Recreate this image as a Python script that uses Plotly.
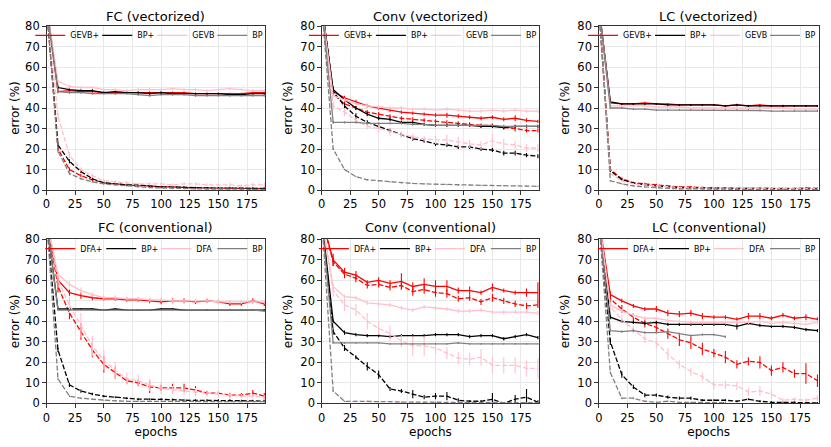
import plotly.graph_objects as go
from plotly.subplots import make_subplots

epochs = [0, 10, 20, 30, 40, 50, 60, 70, 80, 90, 100, 110, 120, 130, 140, 150, 160, 170, 180, 190]

panel_titles = ["FC (vectorized)", "Conv (vectorized)", "LC (vectorized)",
                "FC (conventional)", "Conv (conventional)", "LC (conventional)"]
vec_names = ["GEVB+", "BP+", "GEVB", "BP"]
conv_names = ["DFA+", "BP+", "DFA", "BP"]

# ---- FC (vectorized) ----
fcv_plus_test = [90, 48, 48.5, 48, 48, 47.5, 47.5, 47.5, 47.5, 47.5, 47.5, 47.5, 47.5, 47, 47, 47, 47, 47, 47.5, 47.5]
fcv_bpp_test = [90, 50, 49, 48.5, 48.5, 47.5, 48, 47.5, 47.5, 47, 47.5, 47, 47, 47, 47, 47, 46.5, 46.5, 47, 47]
fcv_base_test = [90, 53, 50.5, 50, 50, 49, 49, 48.5, 49, 49, 49, 49.5, 49, 49, 48.5, 49, 49.5, 49, 48.5, 48.5]
fcv_bp_test = [90, 48, 47.5, 47.5, 47, 47, 47, 47, 46.5, 46, 46.5, 46.5, 46.5, 46, 46, 46, 46, 46, 46, 46]
fcv_plus_train = [90, 20, 10, 7, 5, 3.5, 3, 2.5, 2, 2, 1.5, 1.5, 1.2, 1, 1, 1, 0.8, 0.8, 0.7, 0.7]
fcv_bpp_train = [90, 22, 14, 9, 5.5, 3.5, 3, 2.5, 2.5, 2, 1.5, 1.5, 1.2, 1.2, 1, 1, 1, 0.8, 0.8, 0.8]
fcv_base_train = [90, 36, 17, 10, 7, 4.5, 4, 3.5, 3, 3, 3, 2.5, 3, 3, 2.5, 2.5, 2.5, 2, 2.5, 2.5]
fcv_bp_train = [90, 19, 8, 5.5, 4, 3, 2.5, 2, 1.5, 1.2, 1, 0.8, 0.7, 0.6, 0.5, 0.5, 0.4, 0.4, 0.3, 0.3]
fcv_plus_test_err = [0, 0.8, 0.6, 0.6, 0.5, 0.5, 0.5, 0.6, 0.5, 0.5, 0.5, 0.5, 0.5, 0.5, 0.5, 0.5, 0.5, 0.5, 0.6, 0.5]
fcv_bpp_test_err = [0, 0.8, 0.6, 0.6, 0.6, 0.5, 0.5, 0.5, 0.5, 0.8, 0.5, 0.5, 0.5, 0.5, 0.5, 0.5, 0.5, 0.5, 0.5, 0.5]
fcv_base_test_err = [0, 1, 0.8, 0.8, 0.6, 0.6, 0.6, 0.6, 0.6, 0.6, 0.6, 0.6, 0.6, 0.6, 0.8, 0.6, 0.8, 0.6, 0.8, 0.6]
fcv_bp_test_err = [0, 0.5, 0.5, 0.5, 0.5, 0.5, 0.5, 0.5, 0.5, 0.5, 0.5, 0.5, 0.5, 0.5, 0.5, 0.5, 0.5, 0.5, 0.5, 0.5]
fcv_plus_train_err = [0, 1, 1, 0.8, 0.6, 0.5, 0.5, 0.5, 0.4, 0.4, 0.4, 0.4, 0.4, 0.4, 0.4, 0.4, 0.4, 0.4, 0.4, 0.4]
fcv_bpp_train_err = [0, 1, 1, 0.8, 0.6, 0.5, 0.5, 0.5, 0.4, 0.4, 0.4, 0.4, 0.4, 0.4, 0.4, 0.4, 0.4, 0.4, 0.4, 0.4]
fcv_base_train_err = [0, 1.5, 1.5, 1, 1, 0.8, 0.8, 0.8, 0.8, 0.8, 0.8, 0.8, 0.8, 0.8, 0.8, 0.8, 1, 0.8, 1, 1]
fcv_bp_train_err = [0, 0.8, 0.6, 0.5, 0.4, 0.3, 0.3, 0.3, 0.3, 0.3, 0.3, 0.3, 0.3, 0.3, 0.3, 0.3, 0.3, 0.3, 0.3, 0.3]

# ---- Conv (vectorized) ----
convv_plus_test = [90, 48, 45, 43, 41, 40, 39, 38, 37.5, 37, 36.5, 36.5, 36, 35.5, 35, 35.5, 34.5, 35, 34, 33.5]
convv_bpp_test = [90, 49, 44, 40, 37, 35, 34.5, 33, 33, 32, 31.5, 31.5, 31.5, 31.5, 31, 31, 30.5, 31, 31, 31]
convv_base_test = [90, 46, 44, 42, 41, 40.5, 40, 40, 39.5, 39.5, 39, 39.5, 39, 38.5, 38.5, 39, 38.5, 39, 38.5, 38.5]
convv_bp_test = [90, 33, 33, 33, 32.5, 32.5, 32.5, 32.5, 32, 32, 31.5, 31.5, 31.5, 31.5, 31.5, 31.5, 31, 31, 31, 31]
convv_plus_train = [90, 47, 42, 40, 38, 37, 36, 35, 34.5, 34, 33.5, 33, 32.5, 32, 31.5, 31.5, 30.5, 30, 29, 29]
convv_bpp_train = [90, 48, 41, 36, 33, 31, 29, 27, 25, 24, 22.5, 22, 21, 21, 20, 19.5, 18, 18, 17, 16.5]
convv_base_train = [90, 41, 38, 34, 31, 30, 28.5, 27, 26, 25, 24.5, 24.5, 23.5, 22.5, 22, 24, 22.5, 22, 20.5, 20.5]
convv_bp_train = [90, 20, 10, 6.5, 5, 4.5, 4, 3.5, 3.2, 3, 2.8, 2.6, 2.5, 2.4, 2.3, 2.2, 2.1, 2, 1.9, 1.8]
convv_plus_test_err = [0, 1.5, 1, 1, 0.8, 0.8, 1, 0.8, 0.8, 0.8, 1, 1.2, 1, 1, 1, 1, 1, 1.5, 1, 0.8]
convv_bpp_test_err = [0, 1.5, 1, 1, 1, 1, 1, 0.8, 0.8, 0.8, 0.8, 0.8, 0.8, 0.8, 0.8, 0.8, 0.8, 0.8, 0.8, 0.8]
convv_base_test_err = [0, 1, 1, 0.8, 0.8, 0.8, 1, 1, 0.8, 0.8, 0.8, 1, 0.8, 0.8, 0.8, 0.8, 1, 0.8, 0.8, 0.8]
convv_bp_test_err = [0, 0.8, 0.5, 0.5, 0.5, 0.5, 0.5, 0.5, 0.5, 0.5, 0.5, 0.5, 0.5, 0.5, 0.5, 0.5, 0.5, 0.5, 0.5, 0.5]
convv_plus_train_err = [0, 1, 1.5, 1, 1, 1, 1, 1, 1, 1, 1, 1, 1, 1, 1, 1, 1, 1.5, 1, 1]
convv_bpp_train_err = [0, 1, 1.5, 1.5, 1, 1, 1, 1, 1, 1, 1, 1, 1, 1, 1, 1, 1.2, 1.2, 1, 1]
convv_base_train_err = [0, 2, 2, 1.5, 1.5, 2, 2, 1.5, 1.5, 1.5, 2, 2.5, 2.5, 2, 2, 3.5, 2.5, 2, 2, 2]
convv_bp_train_err = [0, 0.5, 0.4, 0.3, 0.3, 0.3, 0.3, 0.3, 0.3, 0.3, 0.3, 0.3, 0.3, 0.3, 0.3, 0.3, 0.3, 0.3, 0.3, 0.3]

# ---- LC (vectorized) ----
lcv_plus_test = [90, 42.5, 42, 42, 42.5, 42, 42, 41.5, 41.5, 41.5, 41.5, 41, 41.5, 41, 41.5, 41, 41, 41, 41, 41]
lcv_bpp_test = [90, 43, 42, 42, 42, 42, 41.5, 41.5, 41.5, 41.5, 41.5, 41, 41.5, 41, 41, 41, 41, 41, 41, 41]
lcv_base_test = [90, 41, 41, 41, 41, 40.5, 40.5, 40.5, 40, 40, 40, 40, 40, 40, 40, 40, 40, 39.5, 39.5, 39.5]
lcv_bp_test = [90, 40, 40, 39.5, 39.5, 39, 39, 39, 39, 39, 39, 39, 39, 39, 38.8, 38.5, 38.5, 38.5, 38.5, 38.5]
lcv_plus_train = [90, 10, 5.5, 3.5, 3, 2.5, 2, 1.5, 1.5, 1.2, 1, 1, 0.9, 0.8, 0.8, 0.8, 0.8, 0.8, 1, 0.8]
lcv_bpp_train = [90, 9.5, 5, 3.5, 2.5, 2, 1.5, 1.2, 1, 1, 0.8, 0.8, 0.7, 0.6, 0.6, 0.5, 0.5, 0.5, 0.5, 0.5]
lcv_base_train = [90, 8, 4.5, 3, 2.5, 2, 1.5, 1.2, 1, 1, 0.9, 0.8, 0.8, 0.7, 0.7, 0.7, 0.7, 0.7, 0.7, 0.7]
lcv_bp_train = [90, 4.5, 3, 2, 1.5, 1, 0.8, 0.6, 0.5, 0.5, 0.4, 0.4, 0.4, 0.3, 0.3, 0.3, 0.3, 0.3, 0.3, 0.3]
lcv_plus_test_err = [0, 0.6, 0.5, 0.5, 0.6, 0.5, 0.5, 0.5, 0.5, 0.5, 0.5, 0.5, 0.5, 0.5, 0.5, 0.5, 0.6, 0.5, 0.5, 0.5]
lcv_bpp_test_err = [0, 0.6, 0.5, 0.5, 0.5, 0.5, 0.5, 0.5, 0.5, 0.5, 0.5, 0.5, 0.6, 0.5, 0.5, 0.5, 0.5, 0.5, 0.5, 0.5]
lcv_base_test_err = [0, 0.5, 0.5, 0.5, 0.5, 0.5, 0.5, 0.5, 0.5, 0.5, 0.5, 0.5, 0.5, 0.5, 0.5, 0.5, 0.5, 0.5, 0.5, 0.5]
lcv_bp_test_err = [0, 0.5, 0.5, 0.5, 0.5, 0.5, 0.5, 0.5, 0.5, 0.5, 0.5, 0.5, 0.5, 0.5, 0.5, 0.5, 0.5, 0.5, 0.5, 0.5]
lcv_plus_train_err = [0, 0.8, 0.6, 0.5, 0.5, 0.5, 0.4, 0.4, 0.4, 0.4, 0.4, 0.4, 0.4, 0.4, 0.4, 0.4, 0.4, 0.4, 0.6, 0.4]
lcv_bpp_train_err = [0, 0.8, 0.5, 0.4, 0.4, 0.4, 0.3, 0.3, 0.3, 0.3, 0.3, 0.3, 0.3, 0.3, 0.3, 0.3, 0.3, 0.3, 0.3, 0.3]
lcv_base_train_err = [0, 0.6, 0.4, 0.4, 0.3, 0.3, 0.3, 0.3, 0.3, 0.3, 0.3, 0.3, 0.3, 0.3, 0.3, 0.3, 0.3, 0.3, 0.3, 0.3]
lcv_bp_train_err = [0, 0.4, 0.3, 0.3, 0.3, 0.3, 0.3, 0.3, 0.3, 0.3, 0.3, 0.3, 0.3, 0.3, 0.3, 0.3, 0.3, 0.3, 0.3, 0.3]

# ---- FC (conventional) ----
fcc_plus_test = [90, 60, 54, 52.5, 51.5, 51, 51, 50.5, 50.5, 50, 49.5, 50, 50, 49.5, 50, 49.5, 48.5, 48.5, 50, 48.5]
fcc_bpp_test = [90, 46, 46, 46, 46, 45.5, 46, 45.5, 45.5, 45.5, 46, 46, 45.5, 45.5, 45.5, 45.5, 45.5, 45.5, 45.5, 45.5]
fcc_base_test = [90, 63, 58, 55, 53, 51.5, 51.5, 51, 51, 50.5, 50.5, 50, 50, 50, 50, 49.5, 49.5, 49.5, 49.5, 49.5]
fcc_bp_test = [90, 45.5, 45.5, 45.5, 45.5, 45.5, 45.5, 45.5, 45.5, 45.5, 45.5, 45.5, 45.5, 45.5, 45.5, 45.5, 45.5, 45.5, 45.5, 45]
fcc_plus_train = [90, 57, 44, 35, 26, 19, 15, 11, 10, 8, 7.5, 7.5, 7.5, 6.5, 5, 5, 4, 4, 5, 3.5]
fcc_bpp_train = [90, 26, 9, 6, 4.5, 3.5, 3, 2.5, 2, 2, 2, 1.8, 1.5, 1.5, 1.5, 1.5, 1.5, 1.2, 1.2, 1]
fcc_base_train = [90, 60, 48, 38, 28, 21, 16, 12, 11, 9, 7.5, 6.5, 6, 5.5, 5, 4.5, 4, 3.5, 3.5, 3]
fcc_bp_train = [90, 12, 3.5, 2.5, 2, 1.5, 1.2, 1, 1, 0.9, 0.9, 0.8, 0.8, 0.8, 0.8, 0.8, 0.8, 0.8, 0.8, 0.8]
fcc_plus_test_err = [0, 2, 1.5, 1.5, 1.2, 1, 1, 1, 1, 1.2, 1.2, 1.2, 1.2, 1, 1, 1, 1, 1, 1.2, 1]
fcc_bpp_test_err = [0, 0.5, 0.5, 0.5, 0.5, 0.5, 0.5, 0.5, 0.5, 0.5, 0.5, 0.5, 0.5, 0.5, 0.5, 0.5, 0.5, 0.5, 0.5, 0.5]
fcc_base_test_err = [0, 1.5, 1.5, 1.5, 1.2, 1.2, 1.2, 1, 1, 1, 1, 1, 1, 1, 1, 1, 1, 1, 1, 1]
fcc_bp_test_err = [0, 0.4, 0.4, 0.4, 0.4, 0.4, 0.4, 0.4, 0.4, 0.4, 0.4, 0.4, 0.4, 0.4, 0.4, 0.4, 0.4, 0.4, 0.4, 0.4]
fcc_plus_train_err = [0, 3, 3, 4, 3.5, 4, 3, 1.5, 1.5, 3, 1.5, 2, 2, 2, 1, 1, 1, 1, 1.5, 1.5]
fcc_bpp_train_err = [0, 1, 1, 0.8, 0.6, 0.5, 0.5, 0.5, 0.5, 0.5, 0.5, 0.5, 0.5, 0.5, 0.5, 0.5, 0.5, 0.5, 0.5, 0.5]
fcc_base_train_err = [0, 3, 4, 6, 5, 5, 4, 3, 3, 3, 3, 2, 2, 2, 1.5, 1.5, 1.5, 1, 1, 1]
fcc_bp_train_err = [0, 0.5, 0.4, 0.3, 0.3, 0.3, 0.3, 0.3, 0.3, 0.3, 0.3, 0.3, 0.3, 0.3, 0.3, 0.3, 0.3, 0.3, 0.3, 0.3]

# ---- Conv (conventional) ----
convc_plus_test = [90, 70, 64, 62.5, 59, 60, 58.5, 59.5, 57, 58, 57, 57, 55, 55, 54, 56.5, 55, 54, 54, 54]
convc_bpp_test = [90, 40, 34.5, 33.5, 33, 33, 32.5, 33, 33, 33, 33.5, 33.5, 33.5, 32.5, 33, 33, 31.5, 32.5, 33.5, 32]
convc_base_test = [90, 57, 52, 51.5, 49, 48.5, 48, 46.5, 45.5, 47, 46.5, 46, 45, 45, 45.5, 44.5, 44.5, 44.5, 44.5, 44]
convc_bp_test = [90, 29.5, 29.5, 29.5, 29.5, 29.5, 29, 29, 29, 29, 29, 29, 29.5, 29, 29, 29, 29, 29, 29, 29]
convc_plus_train = [90, 69, 63, 61, 57.5, 58, 56.5, 57.5, 54.5, 55.5, 54, 53.5, 51, 51.5, 49.5, 51.5, 50, 48.5, 47.5, 48]
convc_bpp_train = [90, 35, 27, 22.5, 18, 14, 7, 6, 4.5, 3, 3.5, 3.5, 1.5, 1, 1, 2, 0, 2, 3, 0.5]
convc_base_train = [90, 55, 48, 45.5, 40, 36.5, 34, 30.5, 28, 28, 27, 24.5, 22, 21.5, 22.5, 18.5, 18.5, 18.5, 17, 17]
convc_bp_train = [90, 6, 1, 1, 1, 0.8, 0.8, 0.6, 0.6, 0.5, 0.5, 0.5, 0.5, 0.4, 0.4, 0.4, 0.3, 0.3, 0.3, 0.3]
convc_plus_test_err = [0, 3, 2, 2, 1, 1.5, 1.5, 4, 2, 3, 3, 3, 1.5, 2, 1, 2, 1, 1, 2, 5]
convc_bpp_test_err = [0, 1, 1, 0.8, 0.8, 0.8, 0.8, 0.8, 0.8, 0.8, 0.8, 0.8, 0.8, 0.8, 0.8, 0.8, 0.8, 0.8, 0.8, 0.8]
convc_base_test_err = [0, 1.5, 1, 1, 1, 1, 1, 1, 1, 1, 1, 1, 1, 1, 1, 1, 1, 1, 1, 1]
convc_bp_test_err = [0, 0.5, 0.4, 0.4, 0.4, 0.4, 0.4, 0.4, 0.4, 0.4, 0.4, 0.4, 0.4, 0.4, 0.4, 0.4, 0.4, 0.4, 0.4, 0.4]
convc_plus_train_err = [0, 2, 2, 2, 1.5, 1.5, 1.5, 2, 2, 2, 2, 2, 1.5, 1.5, 1.5, 2, 1.5, 1.5, 1.5, 1.5]
convc_bpp_train_err = [0, 1.5, 1.5, 1, 2, 2, 1, 1, 2, 1, 1.5, 2, 1, 0.5, 0.5, 3, 0.5, 2, 4, 1]
convc_base_train_err = [0, 3, 3, 3, 4, 3, 4, 3, 5, 5, 3, 3, 3, 3, 4, 4, 4, 4, 4, 5]
convc_bp_train_err = [0, 0.5, 0.3, 0.3, 0.3, 0.3, 0.3, 0.3, 0.3, 0.3, 0.3, 0.3, 0.3, 0.3, 0.3, 0.3, 0.3, 0.3, 0.3, 0.3]

# ---- LC (conventional) ----
lcc_plus_test = [90, 53, 50, 47.5, 46, 46, 44, 43.5, 44, 42.5, 42, 42, 41, 42.5, 42.5, 41.5, 43, 41.5, 42, 41]
lcc_bpp_test = [90, 42, 40, 39.5, 39, 39.5, 38.5, 38.5, 38.5, 38.5, 38.5, 38.5, 37.5, 39, 38, 37.5, 37.5, 37, 36, 35.5]
lcc_base_test = [90, 48, 45, 43, 41.5, 41.5, 40.5, 40, 39.5, 39.5, 39.5, 39.5, 39.5, 39.5, 40, 39, 39.5, 39, 38.5, 39.5]
lcc_bp_test = [90, 35.5, 35, 35.5, 34.5, 34.5, 35, 34, 33, 33.5, 33.5, 32.5, None, None, None, None, None, None, None, None]
lcc_plus_train = [90, 51, 46, 42, 39, 37, 34, 31, 29.5, 26.5, 24.5, 22.5, 19, 20.5, 20, 16, 17.5, 14.5, 14.5, 11]
lcc_bpp_train = [90, 30, 14, 8, 4, 4, 3, 2.5, 2.5, 1.5, 1.5, 1.5, 1, 2, 1, 0.5, 0.5, 0.5, 0.3, 0.2]
lcc_base_train = [90, 47, 41, 36, 31.5, 29.5, 24, 19, 15.5, 13, 9, 9, 8.5, 5.5, 6, 4.5, 1.5, 2, 1.5, 2.5]
lcc_bp_train = [90, 15, 2.5, 2.5, 1, 0.5, 1, 0.5, 0.5, 0.3, 0.3, 0.3, None, None, None, None, None, None, None, None]
lcc_plus_test_err = [0, 1.5, 1, 1, 1, 1.5, 1.5, 1.5, 1.5, 1.5, 1, 1, 1, 1.5, 1.5, 1, 1, 1, 1.5, 1]
lcc_bpp_test_err = [0, 1, 0.8, 0.8, 0.8, 0.8, 0.8, 0.8, 0.8, 0.8, 0.8, 0.8, 1.5, 0.8, 0.8, 0.8, 0.8, 0.8, 0.8, 0.8]
lcc_base_test_err = [0, 1, 1, 1, 1, 1, 1, 1, 1, 1, 1, 1, 1, 1, 1, 1, 1, 1, 1, 1]
lcc_bp_test_err = [0, 0.6, 0.6, 0.6, 0.6, 0.6, 0.6, 0.6, 0.6, 0.6, 0.6, 0.6, None, None, None, None, None, None, None, None]
lcc_plus_train_err = [0, 2, 2, 2, 2, 2.5, 2.5, 3, 3, 3, 2, 3, 2, 2, 3, 2.5, 2.5, 2, 5, 3]
lcc_bpp_train_err = [0, 1.5, 1.5, 1, 1, 0.8, 0.8, 0.8, 0.8, 0.5, 0.5, 0.5, 0.5, 0.5, 0.5, 0.5, 0.5, 0.5, 0.5, 0.5]
lcc_base_train_err = [0, 2, 2, 2, 2, 2.5, 3, 2, 2, 2, 2, 2, 2, 2, 2.5, 2, 1, 1, 1, 1.5]
lcc_bp_train_err = [0, 0.5, 0.5, 0.5, 0.3, 0.3, 0.3, 0.3, 0.3, 0.3, 0.3, 0.3, None, None, None, None, None, None, None, None]

RED = "#ff0000"
BLACK = "#000000"
PINK = "#ffc0cb"
GRAY = "#808080"
colors = [RED, BLACK, PINK, GRAY]
# legend entry widths (px), a bit under the text width so the row stays compact;
# the last one is kept wide enough so the legend box does not clip it
vec_entry_w = [22, 10, 15, 13]
conv_entry_w = [16, 10, 11, 13]

panels = [
    (1, 1, vec_names, [(fcv_plus_test, fcv_plus_test_err, fcv_plus_train, fcv_plus_train_err),
                       (fcv_bpp_test, fcv_bpp_test_err, fcv_bpp_train, fcv_bpp_train_err),
                       (fcv_base_test, fcv_base_test_err, fcv_base_train, fcv_base_train_err),
                       (fcv_bp_test, fcv_bp_test_err, fcv_bp_train, fcv_bp_train_err)]),
    (1, 2, vec_names, [(convv_plus_test, convv_plus_test_err, convv_plus_train, convv_plus_train_err),
                       (convv_bpp_test, convv_bpp_test_err, convv_bpp_train, convv_bpp_train_err),
                       (convv_base_test, convv_base_test_err, convv_base_train, convv_base_train_err),
                       (convv_bp_test, convv_bp_test_err, convv_bp_train, convv_bp_train_err)]),
    (1, 3, vec_names, [(lcv_plus_test, lcv_plus_test_err, lcv_plus_train, lcv_plus_train_err),
                       (lcv_bpp_test, lcv_bpp_test_err, lcv_bpp_train, lcv_bpp_train_err),
                       (lcv_base_test, lcv_base_test_err, lcv_base_train, lcv_base_train_err),
                       (lcv_bp_test, lcv_bp_test_err, lcv_bp_train, lcv_bp_train_err)]),
    (2, 1, conv_names, [(fcc_plus_test, fcc_plus_test_err, fcc_plus_train, fcc_plus_train_err),
                        (fcc_bpp_test, fcc_bpp_test_err, fcc_bpp_train, fcc_bpp_train_err),
                        (fcc_base_test, fcc_base_test_err, fcc_base_train, fcc_base_train_err),
                        (fcc_bp_test, fcc_bp_test_err, fcc_bp_train, fcc_bp_train_err)]),
    (2, 2, conv_names, [(convc_plus_test, convc_plus_test_err, convc_plus_train, convc_plus_train_err),
                        (convc_bpp_test, convc_bpp_test_err, convc_bpp_train, convc_bpp_train_err),
                        (convc_base_test, convc_base_test_err, convc_base_train, convc_base_train_err),
                        (convc_bp_test, convc_bp_test_err, convc_bp_train, convc_bp_train_err)]),
    (2, 3, conv_names, [(lcc_plus_test, lcc_plus_test_err, lcc_plus_train, lcc_plus_train_err),
                        (lcc_bpp_test, lcc_bpp_test_err, lcc_bpp_train, lcc_bpp_train_err),
                        (lcc_base_test, lcc_base_test_err, lcc_base_train, lcc_base_train_err),
                        (lcc_bp_test, lcc_bp_test_err, lcc_bp_train, lcc_bp_train_err)]),
]

# the page body has an 8px margin, so the figure is 815x431 and sits at (8, 8)
W, H = 815, 431
col_domains = [[0.0475, 0.3174], [0.3869, 0.6548], [0.7285, 0.9995]]
row_domains = [[0.5777, 0.9582], [0.0828, 0.4633]]
title_y = [0.9803, 0.4896]

FONT = "DejaVu Sans"

fig = make_subplots(rows=2, cols=3, horizontal_spacing=0.05, vertical_spacing=0.1)

for i, (row, col, names, groups) in enumerate(panels):
    legend_id = "legend" if i == 0 else "legend%d" % (i + 1)
    entry_w = vec_entry_w if row == 1 else conv_entry_w
    for name, color, ew, (test, test_err, train, train_err) in zip(names, colors, entry_w, groups):
        fig.add_trace(go.Scatter(x=epochs, y=test, mode="lines", name=name,
                                 line=dict(color=color, width=1.3),
                                 error_y=dict(type="data", array=test_err, width=0,
                                              thickness=1.1, color=color),
                                 legend=legend_id, showlegend=True, legendwidth=ew),
                      row=row, col=col)
        fig.add_trace(go.Scatter(x=epochs, y=train, mode="lines", name=name,
                                 line=dict(color=color, width=1.3, dash="5px,2px"),
                                 error_y=dict(type="data", array=train_err, width=0,
                                              thickness=1.1, color=color),
                                 legend=legend_id, showlegend=False),
                      row=row, col=col)

    xd = col_domains[col - 1]
    yd = row_domains[row - 1]
    fig.update_xaxes(domain=xd, row=row, col=col)
    fig.update_yaxes(domain=yd, row=row, col=col)
    fig.update_layout({legend_id: dict(
        x=xd[1] + 0.006, xanchor="right", y=yd[1] + 0.012, yanchor="top",
        orientation="h", bgcolor="rgba(255,255,255,0)",
        font=dict(family=FONT, size=8, color="black"),
        itemwidth=30, tracegroupgap=0,
    )})
    fig.add_annotation(text=panel_titles[i], xref="paper", yref="paper",
                       x=(xd[0] + xd[1]) / 2, y=title_y[row - 1],
                       xanchor="center", yanchor="middle", showarrow=False,
                       font=dict(family=FONT, size=13, color="black"))

fig.update_xaxes(range=[0, 191], tickvals=[0, 25, 50, 75, 100, 125, 150, 175],
                 showgrid=True, gridcolor="#e8e8e8", gridwidth=1, zeroline=False,
                 showline=True, linecolor="#333333", linewidth=1, mirror=True,
                 ticks="outside", ticklen=3.5, tickcolor="#333333", automargin=False,
                 tickfont=dict(family=FONT, size=11.5, color="black"))
fig.update_yaxes(range=[0, 80], dtick=10, tick0=0,
                 showgrid=True, gridcolor="#e8e8e8", gridwidth=1, zeroline=False,
                 showline=True, linecolor="#333333", linewidth=1, mirror=True,
                 ticks="outside", ticklen=3.5, tickcolor="#333333", automargin=False,
                 tickfont=dict(family=FONT, size=11.5, color="black"),
                 title=dict(text="error (%)", standoff=5,
                            font=dict(family=FONT, size=12, color="black")))
for c in (1, 2, 3):
    fig.update_xaxes(title=dict(text="epochs", standoff=3,
                                font=dict(family=FONT, size=12, color="black")),
                     row=2, col=c)

fig.update_layout(width=W, height=H, margin=dict(l=0, r=0, t=0, b=0),
                  plot_bgcolor="white", paper_bgcolor="white",
                  font=dict(family=FONT, color="black"))

fig.write_html("out.html")
